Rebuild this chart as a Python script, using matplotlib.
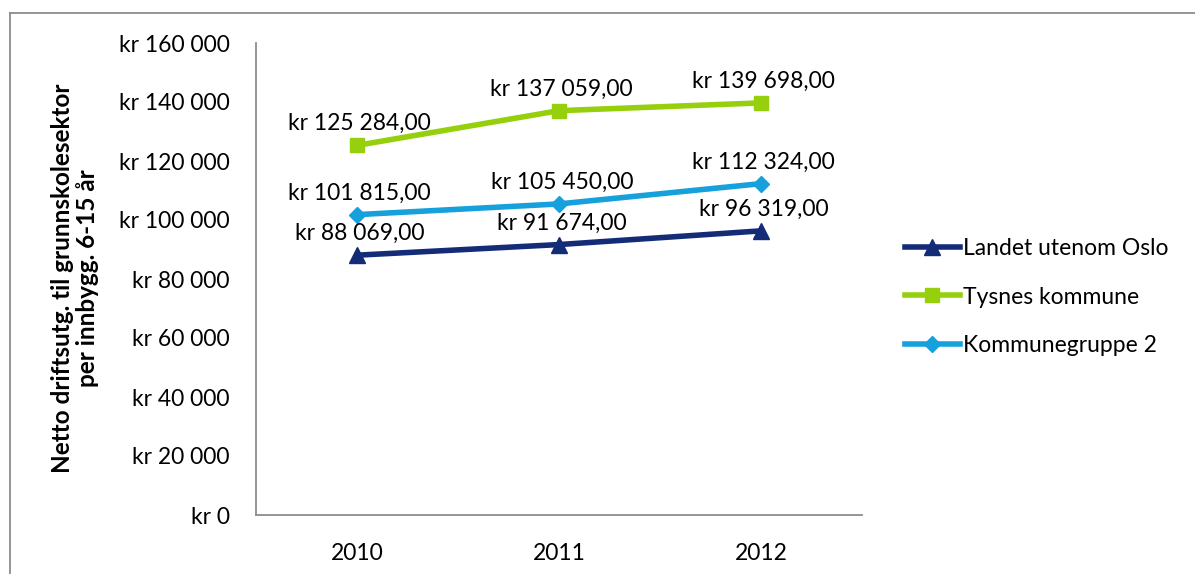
import matplotlib
matplotlib.use("Agg")
import matplotlib.pyplot as plt
from matplotlib.ticker import FuncFormatter
from matplotlib.lines import Line2D

years = ["2010", "2011", "2012"]
landet = [88069, 91674, 96319]
tysnes = [125284, 137059, 139698]
kgruppe = [101815, 105450, 112324]
series_names = ["Landet utenom Oslo", "Tysnes kommune", "Kommunegruppe 2"]
yticks = [0, 20000, 40000, 60000, 80000, 100000, 120000, 140000, 160000]

plt.rcParams['font.family'] = ['Lato', 'DejaVu Sans']

W, H = 1195, 574
fig = plt.figure(figsize=(W/100, H/100), dpi=100)
ax = fig.add_axes([256/W, 1-515/H, (862-256)/W, (515-43)/H])

x = [0.5, 1.5, 2.5]
navy = "#142C78"
green = "#96CF0C"
blue = "#16A0DC"
FS = 16.5

def fmt_num(v):
    return f"{v:,.0f}".replace(",", " ")

ax.plot(x, landet, color=navy, lw=4, marker="^", ms=11, label=series_names[0], zorder=3)
ax.plot(x, tysnes, color=green, lw=4, marker="s", ms=10, label=series_names[1], zorder=3)
ax.plot(x, kgruppe, color=blue, lw=4, marker="D", ms=8, label=series_names[2], zorder=3)

for vals in (landet, tysnes, kgruppe):
    for xi, v in zip(x, vals):
        ax.annotate(f"kr {fmt_num(v)},00", (xi, v), xytext=(2, 8), textcoords="offset points",
                    ha="center", va="bottom", fontsize=FS, color="black", zorder=4)

ax.set_xlim(0, 3)
ax.set_ylim(0, 160000)
ax.set_xticks(x)
ax.set_xticklabels(years, fontsize=FS)
ax.set_yticks(yticks)
ax.yaxis.set_major_formatter(FuncFormatter(lambda v, p: f"kr {fmt_num(v)}"))
ax.tick_params(axis='y', labelsize=FS, length=0, pad=19)
ax.tick_params(axis='x', length=0, pad=20)
for s in ("top", "right"):
    ax.spines[s].set_visible(False)
for s in ("left", "bottom"):
    ax.spines[s].set_color("#8C8C8C")
    ax.spines[s].set_linewidth(1.3)

fig.text(75/W, 1-278/H, "Netto driftsutg. til grunnskolesektor\nper innbygg. 6-15 år",
         rotation=90, ha="center", va="center", fontsize=17.5, fontweight="bold",
         linespacing=1.1)

handles = [Line2D([], [], color=navy, lw=4, marker="^", ms=11),
           Line2D([], [], color=green, lw=4, marker="s", ms=10),
           Line2D([], [], color=blue, lw=4, marker="D", ms=8)]
fig.legend(handles, series_names, loc="center left", bbox_to_anchor=(884/W, 1-297/H),
           frameon=False, fontsize=FS, handlelength=2.4, handletextpad=0.15,
           labelspacing=1.2)

fig.add_artist(Line2D([10/W, 1], [1-13/H, 1-13/H], color="#8C8C8C", lw=1.3, transform=fig.transFigure))
fig.add_artist(Line2D([10/W, 10/W], [0, 1-13/H], color="#8C8C8C", lw=1.3, transform=fig.transFigure))

fig.savefig("out.png", dpi=100)
